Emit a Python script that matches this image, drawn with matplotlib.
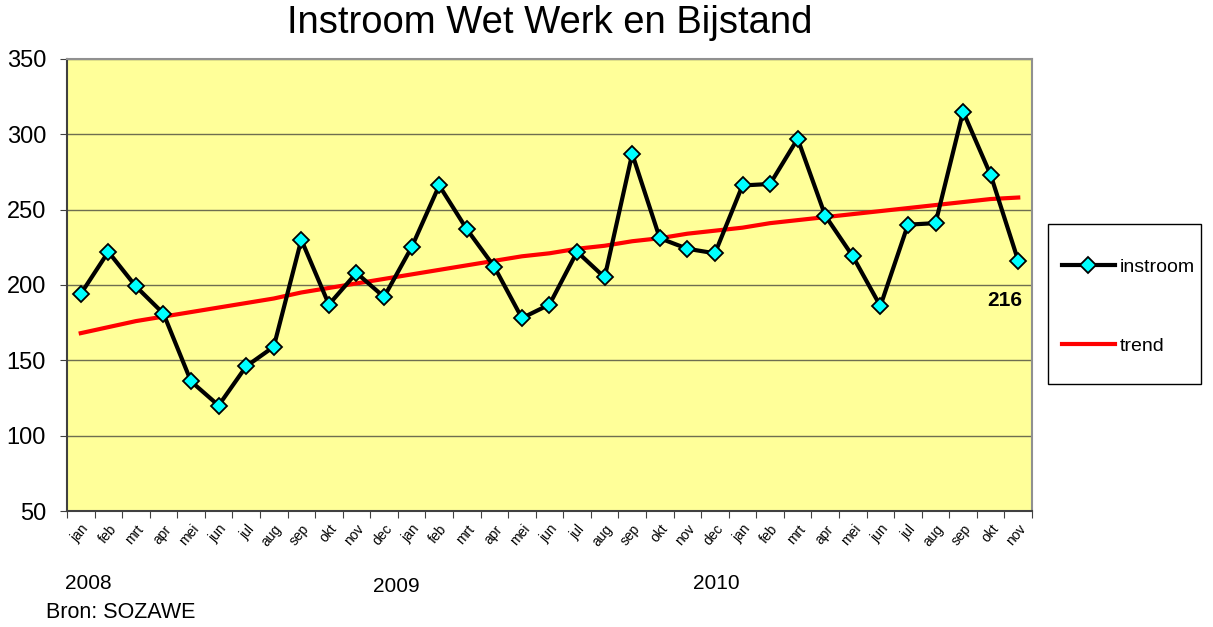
import numpy as np
import matplotlib
matplotlib.use("Agg")
import matplotlib.pyplot as plt
from matplotlib.patches import Rectangle

plt.rcParams["font.family"] = ["Liberation Sans", "DejaVu Sans"]

# monthly intake jan 2008 - nov 2010
months = ["jan", "feb", "mrt", "apr", "mei", "jun", "jul", "aug", "sep", "okt", "nov", "dec"] * 2 + \
         ["jan", "feb", "mrt", "apr", "mei", "jun", "jul", "aug", "sep", "okt", "nov"]
instroom = [194, 222, 199, 181, 136, 120, 146, 159, 230, 187, 208, 192,
            225, 266, 237, 212, 178, 187, 222, 205, 287, 231, 224, 221,
            266, 267, 297, 246, 219, 186, 240, 241, 315, 273, 216]
trend = [168, 172, 176, 179, 182, 185, 188, 191, 195, 198, 201, 204,
         207, 210, 213, 216, 219, 221, 224, 226, 229, 231, 234, 236,
         238, 241, 243, 245, 247, 249, 251, 253, 255, 257, 258]
years = ["2008", "2009", "2010"]
year_pos = [-0.58, 10.6, 22.2]   # category position where the year label starts

fig = plt.figure(figsize=(12.13, 6.27), dpi=100)
ax = fig.add_axes([0.0552, 0.185, 0.7956, 0.7211])
ax.set_facecolor("#FFFF99")

x = np.arange(len(instroom))
ax.plot(x, instroom, color="black", lw=3, marker="D", ms=8.5,
        mfc="#00FFFF", mec="black", mew=1.3, label="instroom", zorder=4)
ax.plot(x, trend, color="#FF0000", lw=3, label="trend", zorder=3)

ax.set_ylim(50, 350)
ax.set_yticks(range(50, 351, 50))
ax.set_xlim(-0.5, len(instroom) - 0.5)
ax.yaxis.grid(True, color="#6e6e50", lw=1)
ax.set_axisbelow(True)

# Excel-style category axis: ticks on boundaries, labels centred
ax.set_xticks(np.arange(-0.5, len(instroom), 1))
ax.set_xticklabels([])
ax.set_xticks(x, minor=True)
ax.set_xticklabels(months, minor=True, rotation=50, ha="right", fontsize=10,
                   rotation_mode="anchor")
ax.tick_params(axis="x", which="minor", length=0, pad=8)
ax.tick_params(axis="x", which="major", length=5, color="#404040")
ax.tick_params(axis="y", length=5, labelsize=17, color="#404040", pad=10)

for side in ["top", "right"]:
    ax.spines[side].set_color("#909090")
for side in ["left", "bottom"]:
    ax.spines[side].set_color("#404040")
for sp in ax.spines.values():
    sp.set_linewidth(1.5)

ax.annotate(str(instroom[-1]), (x[-1], instroom[-1]), xytext=(3, -22),
            textcoords="offset points", ha="right", va="top",
            fontsize=15, fontweight="bold")

for yr, pos, yy in zip(years, year_pos, [-0.16, -0.167, -0.16]):
    ax.text(pos, yy, yr, transform=ax.get_xaxis_transform(),
            ha="left", va="center", fontsize=15)
fig.text(0.038, 0.023, "Bron: SOZAWE", ha="left", va="center", fontsize=15.5)

fig.text(0.453, 0.963, "Instroom Wet Werk en Bijstand", ha="center", va="center",
         fontsize=27.5)

# legend box drawn separately so its size matches the original
fig.patches.append(Rectangle((0.864, 0.3876), 0.1261, 0.2552, transform=fig.transFigure,
                             fill=False, edgecolor="black", lw=1))
fig.legend(loc="upper left", bbox_to_anchor=(1062 / 1213, 0.588), fontsize=14,
           frameon=False, borderpad=0, labelspacing=3.15, handlelength=2.7,
           handletextpad=0.25, borderaxespad=0)

fig.savefig("out.png", dpi=100)
